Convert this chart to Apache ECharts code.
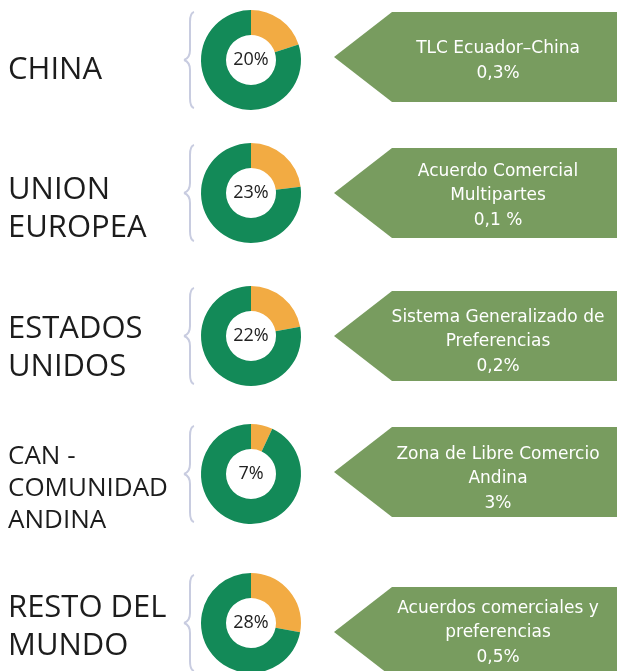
<!DOCTYPE html>
<html>
<head>
<meta charset="utf-8">
<script src="https://cdn.jsdelivr.net/npm/echarts@6/dist/echarts.min.js"></script>
<style>
  html, body { margin: 0; padding: 0; background: #fff; }
  #main { width: 617px; height: 671px; }
</style>
</head>
<body>
<div id="main"></div>
<script>
// datos por región
const regiones = ['CHINA', 'UNION\nEUROPEA', 'ESTADOS\nUNIDOS', 'CAN -\nCOMUNIDAD\nANDINA', 'RESTO DEL\nMUNDO']
const participacion = [20, 23, 22, 7, 28]
const acuerdos = [
    'TLC Ecuador–China',
    'Acuerdo Comercial\nMultipartes',
    'Sistema Generalizado de\nPreferencias',
    'Zona de Libre Comercio\nAndina',
    'Acuerdos comerciales y\npreferencias'
]
const acuerdosPct = ['0,3%', '0,1 %', '0,2%', '3%', '0,5%']

// layout
const rowY = [60, 193, 336, 474, 623]
const arrowY = [57, 193, 336, 472, 632]
const labelSize = [31, 31, 31, 26, 31]
const labelLine = [38, 38, 38, 32, 38]
const labelShift = [10, 16, 12, 15, 4]
const textShift = [4, 3, 6, 7, 1]

const GREEN = '#138a58'
const ORANGE = '#f2ab43'
const ARROW = '#789c5f'
const BRACE = '#c8cce0'

let chartDom = document.getElementById('main')
let myChart = echarts.init(chartDom)

const series = participacion.map(function (v, i) {
    return {
        type: 'pie',
        center: [251, rowY[i]],
        radius: [25, 50],
        startAngle: 90,
        clockwise: true,
        silent: true,
        animation: false,
        label: { show: false },
        labelLine: { show: false },
        data: [
            {
                value: v,
                itemStyle: { color: ORANGE },
                label: {
                    show: true,
                    position: 'center',
                    formatter: v + '%',
                    fontFamily: 'Open Sans',
                    fontSize: 18,
                    color: '#222'
                }
            },
            { value: 100 - v, itemStyle: { color: GREEN } }
        ]
    }
})

const braceStyle = { stroke: BRACE, lineWidth: 2, fill: 'none' }
const curve = (x1, y1, cx, cy, x2, y2) => ({
    type: 'bezierCurve',
    shape: { x1: x1, y1: y1, cpx1: cx, cpy1: cy, x2: x2, y2: y2 },
    style: braceStyle
})
const line = (x1, y1, x2, y2) => ({
    type: 'line',
    shape: { x1: x1, y1: y1, x2: x2, y2: y2 },
    style: braceStyle
})

const graphic = []
regiones.forEach(function (name, i) {
    const cy = rowY[i]
    const ay = arrowY[i]
    const nl = name.split('\n').length
    // etiqueta de región
    graphic.push({
        type: 'text',
        x: 8,
        y: cy - (nl * labelLine[i]) / 2 + labelShift[i],
        style: {
            text: name,
            fontFamily: 'Open Sans',
            fontSize: labelSize[i],
            lineHeight: labelLine[i],
            fill: '#1c1c1c',
            verticalAlign: 'top'
        }
    })
    // llave
    graphic.push(curve(194, cy - 48, 190, cy - 47, 190, cy - 38))
    graphic.push(line(190, cy - 38, 190, cy - 10))
    graphic.push(curve(190, cy - 10, 190, cy - 2, 184, cy))
    graphic.push(curve(184, cy, 190, cy + 2, 190, cy + 10))
    graphic.push(line(190, cy + 10, 190, cy + 38))
    graphic.push(curve(190, cy + 38, 190, cy + 47, 194, cy + 48))
    // flecha
    graphic.push({
        type: 'polygon',
        shape: {
            points: [[334, ay], [392, ay - 45], [617, ay - 45], [617, ay + 45], [392, ay + 45]]
        },
        style: { fill: ARROW }
    })
    const lines = acuerdos[i] + '\n' + acuerdosPct[i]
    const n = lines.split('\n').length
    graphic.push({
        type: 'text',
        x: 498,
        y: ay - (n * 24.5) / 2 + textShift[i],
        style: {
            text: lines,
            fontFamily: 'DejaVu Sans',
            fontSize: 17,
            lineHeight: 24.5,
            fill: '#fff',
            align: 'center',
            verticalAlign: 'top'
        }
    })
})

myChart.setOption({
    animation: false,
    graphic: graphic,
    series: series
})
</script>
</body>
</html>
